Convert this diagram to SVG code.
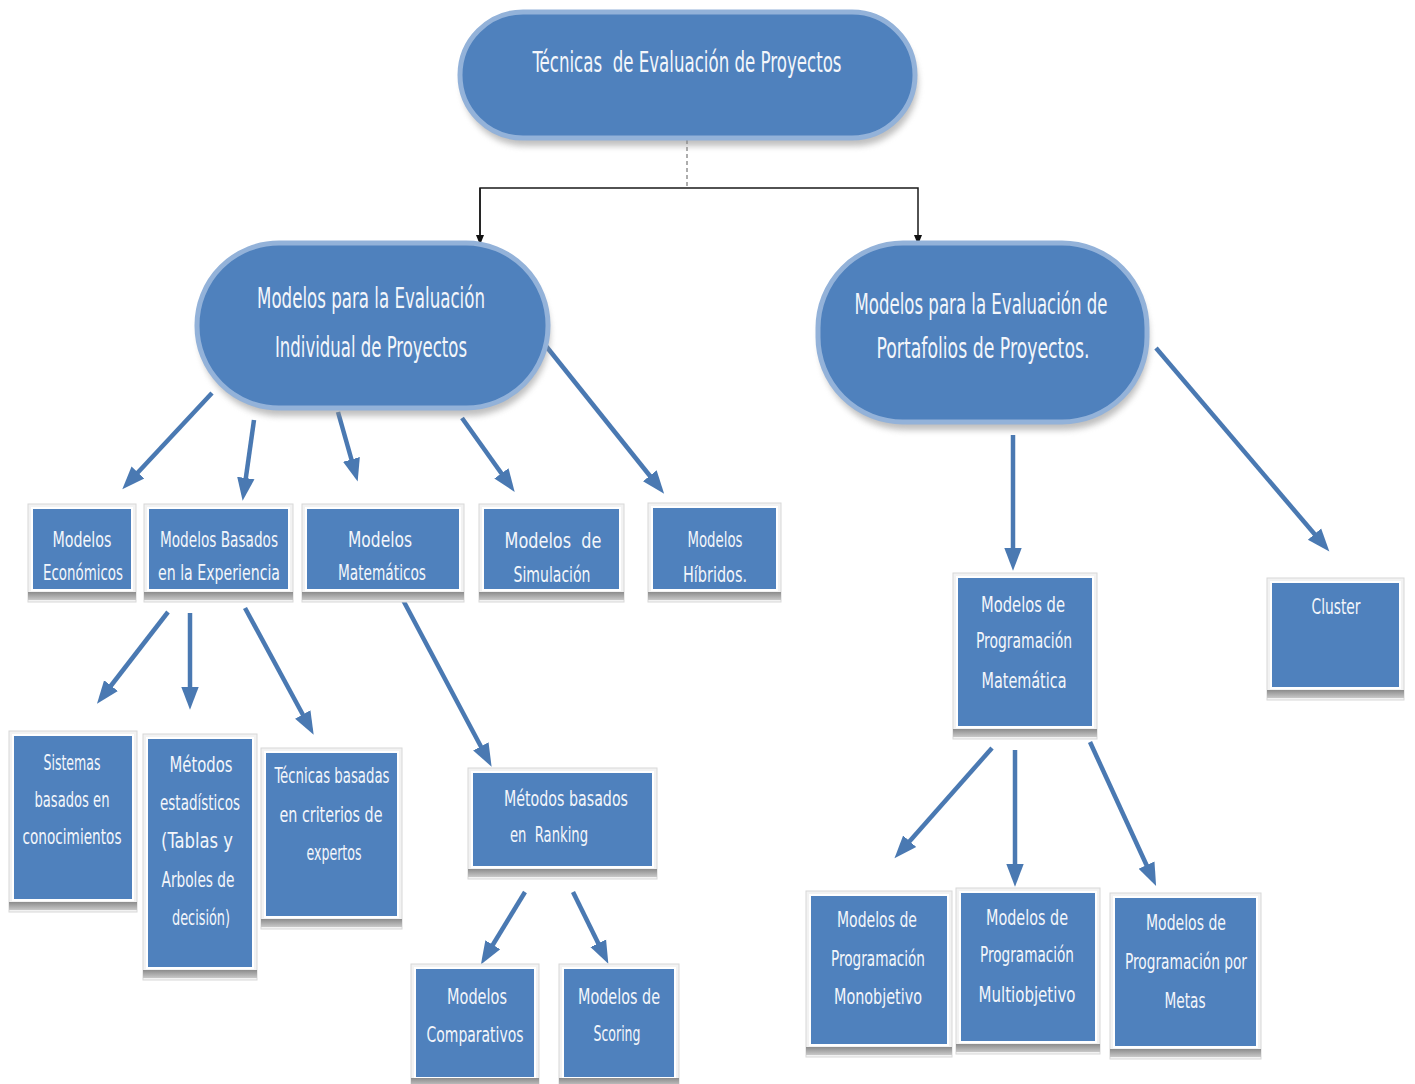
<svg xmlns="http://www.w3.org/2000/svg" width="1415" height="1084" viewBox="0 0 1415 1084">
  <style>
    .pill { fill: #4f81bd; stroke: #93b2d9; stroke-width: 5; }
    .pillShade { fill: #8a8a8a; opacity: 0.55; filter: url(#soft); }
    .frame { fill: #f2f2f2; stroke: #d8d8d8; stroke-width: 1; }
    .shade { fill: url(#shadeGrad); }
    .box { fill: #4f81bd; stroke: #ffffff; stroke-width: 2; }
    text { font-family: "Liberation Sans Narrow", "DejaVu Sans Condensed", "Liberation Sans", sans-serif; fill: #f3f6fb; text-anchor: middle; white-space: pre; }
    .big { font-size: 28px; }
    .small { font-size: 21px; }
    .arrow { stroke: #4a79b2; stroke-width: 4.5; fill: none; marker-end: url(#blueHead); }
    .link { stroke: #1a1a1a; stroke-width: 1.5; fill: none; }
    .stem { stroke: #777777; stroke-width: 1.2; stroke-dasharray: 4 3; fill: none; }
  </style>
  <defs>
    <filter id="soft" x="-10%" y="-10%" width="120%" height="130%">
      <feGaussianBlur stdDeviation="3"/>
    </filter>
    <linearGradient id="shadeGrad" x1="0" y1="0" x2="0" y2="1">
      <stop offset="0" stop-color="#8c8c8c"/>
      <stop offset="1" stop-color="#c8c8c8"/>
    </linearGradient>
    <marker id="blueHead" markerUnits="userSpaceOnUse" markerWidth="24" markerHeight="24" viewBox="0 -10 22 20" refX="12" refY="0" orient="auto">
      <path d="M0,-8 L21,0 L0,8 z" fill="#4a79b2"/>
    </marker>
    <marker id="blackHead" markerUnits="userSpaceOnUse" markerWidth="10" markerHeight="12" viewBox="0 -5 10 10" refX="9" refY="0" orient="auto">
      <path d="M0,-4 L10,0 L0,4 z" fill="#111111"/>
    </marker>
  </defs>

  <rect width="1415" height="1084" fill="#ffffff"/>

  <!-- connectors -->
  <g id="connectors">
    <line class="stem" x1="687" y1="140" x2="687" y2="188"/>
    <polyline class="link" points="480,244 480,188 918,188 918,244" marker-end="url(#blackHead)"/>
    <line class="link" x1="480" y1="188" x2="480" y2="244" marker-end="url(#blackHead)"/>
    <line class="arrow" x1="212" y1="393" x2="129" y2="482"/>
    <line class="arrow" x1="254" y1="420" x2="244" y2="491"/>
    <line class="arrow" x1="338" y1="412" x2="355" y2="472"/>
    <line class="arrow" x1="462" y1="418" x2="509" y2="484"/>
    <line class="arrow" x1="546" y1="346" x2="658" y2="486"/>
    <line class="arrow" x1="1013" y1="435" x2="1013" y2="561"/>
    <line class="arrow" x1="1156" y1="348" x2="1323" y2="544"/>
    <line class="arrow" x1="168" y1="612" x2="103" y2="696"/>
    <line class="arrow" x1="190" y1="613" x2="190" y2="700"/>
    <line class="arrow" x1="245" y1="608" x2="309" y2="726"/>
    <line class="arrow" x1="403" y1="600" x2="487" y2="758"/>
    <line class="arrow" x1="525" y1="892" x2="486" y2="956"/>
    <line class="arrow" x1="573" y1="892" x2="604" y2="955"/>
    <line class="arrow" x1="992" y1="748" x2="901" y2="851"/>
    <line class="arrow" x1="1015" y1="750" x2="1015" y2="877"/>
    <line class="arrow" x1="1090" y1="742" x2="1152" y2="877"/>
  </g>

  <!-- root -->
  <g id="n-root">
    <rect class="pillShade" x="462" y="20" width="456" height="126" rx="63"/>
    <rect class="pill" x="460" y="12" width="455" height="126" rx="63"/>
    <text class="big" x="687" y="72" textLength="309" lengthAdjust="spacingAndGlyphs">Técnicas  de Evaluación de Proyectos</text>
  </g>

  <g id="n-individual">
    <rect class="pillShade" x="199" y="251" width="351" height="165" rx="82"/>
    <rect class="pill" x="197" y="243" width="351" height="165" rx="82"/>
    <text class="big" x="371" y="308" textLength="228" lengthAdjust="spacingAndGlyphs">Modelos para la Evaluación</text>
    <text class="big" x="371" y="357" textLength="192" lengthAdjust="spacingAndGlyphs">Individual de Proyectos</text>
  </g>

  <g id="n-portafolios">
    <rect class="pillShade" x="820" y="251" width="329" height="179" rx="85"/>
    <rect class="pill" x="818" y="243" width="329" height="179" rx="85"/>
    <text class="big" x="981" y="314" textLength="253" lengthAdjust="spacingAndGlyphs">Modelos para la Evaluación de</text>
    <text class="big" x="983" y="358" textLength="213" lengthAdjust="spacingAndGlyphs">Portafolios de Proyectos.</text>
  </g>

  <!-- second level -->
  <g id="n-economicos">
    <rect class="frame" x="28" y="504" width="108" height="98"/>
    <rect class="shade" x="28" y="592" width="108" height="8"/>
    <rect class="box" x="32" y="508" width="100" height="82"/>
    <text class="small" x="82" y="547" textLength="59" lengthAdjust="spacingAndGlyphs">Modelos</text>
    <text class="small" x="83" y="580" textLength="80" lengthAdjust="spacingAndGlyphs">Económicos</text>
  </g>

  <g id="n-experiencia">
    <rect class="frame" x="144" y="504" width="149" height="98"/>
    <rect class="shade" x="144" y="592" width="149" height="8"/>
    <rect class="box" x="148" y="508" width="141" height="82"/>
    <text class="small" x="219" y="547" textLength="118" lengthAdjust="spacingAndGlyphs">Modelos Basados</text>
    <text class="small" x="219" y="580" textLength="122" lengthAdjust="spacingAndGlyphs">en la Experiencia</text>
  </g>

  <g id="n-matematicos">
    <rect class="frame" x="302" y="504" width="162" height="98"/>
    <rect class="shade" x="302" y="592" width="162" height="8"/>
    <rect class="box" x="306" y="508" width="154" height="82"/>
    <text class="small" x="380" y="547" textLength="64" lengthAdjust="spacingAndGlyphs">Modelos</text>
    <text class="small" x="382" y="580" textLength="88" lengthAdjust="spacingAndGlyphs">Matemáticos</text>
  </g>

  <g id="n-simulacion">
    <rect class="frame" x="479" y="504" width="145" height="98"/>
    <rect class="shade" x="479" y="592" width="145" height="8"/>
    <rect class="box" x="483" y="508" width="137" height="82"/>
    <text class="small" x="553" y="548" textLength="97" lengthAdjust="spacingAndGlyphs">Modelos  de</text>
    <text class="small" x="552" y="582" textLength="77" lengthAdjust="spacingAndGlyphs">Simulación</text>
  </g>

  <g id="n-hibridos">
    <rect class="frame" x="648" y="503" width="133" height="99"/>
    <rect class="shade" x="648" y="592" width="133" height="8"/>
    <rect class="box" x="652" y="507" width="125" height="83"/>
    <text class="small" x="715" y="547" textLength="55" lengthAdjust="spacingAndGlyphs">Modelos</text>
    <text class="small" x="715" y="582" textLength="64" lengthAdjust="spacingAndGlyphs">Híbridos.</text>
  </g>

  <!-- third level, left -->
  <g id="n-conocimientos">
    <rect class="frame" x="9" y="731" width="128" height="181"/>
    <rect class="shade" x="9" y="902" width="128" height="8"/>
    <rect class="box" x="13" y="735" width="120" height="165"/>
    <text class="small" x="72" y="770" textLength="57" lengthAdjust="spacingAndGlyphs">Sistemas</text>
    <text class="small" x="72" y="807" textLength="75" lengthAdjust="spacingAndGlyphs">basados en</text>
    <text class="small" x="72" y="844" textLength="99" lengthAdjust="spacingAndGlyphs">conocimientos</text>
  </g>

  <g id="n-estadisticos">
    <rect class="frame" x="143" y="734" width="114" height="246"/>
    <rect class="shade" x="143" y="970" width="114" height="8"/>
    <rect class="box" x="147" y="738" width="106" height="230"/>
    <text class="small" x="201" y="772" textLength="63" lengthAdjust="spacingAndGlyphs">Métodos</text>
    <text class="small" x="200" y="810" textLength="80" lengthAdjust="spacingAndGlyphs">estadísticos</text>
    <text class="small" x="197" y="848" textLength="72" lengthAdjust="spacingAndGlyphs">(Tablas y</text>
    <text class="small" x="198" y="887" textLength="73" lengthAdjust="spacingAndGlyphs">Arboles de</text>
    <text class="small" x="201" y="925" textLength="58" lengthAdjust="spacingAndGlyphs">decisión)</text>
  </g>

  <g id="n-expertos">
    <rect class="frame" x="261" y="748" width="141" height="181"/>
    <rect class="shade" x="261" y="919" width="141" height="8"/>
    <rect class="box" x="265" y="752" width="133" height="165"/>
    <text class="small" x="332" y="783" textLength="115" lengthAdjust="spacingAndGlyphs">Técnicas basadas</text>
    <text class="small" x="331" y="822" textLength="103" lengthAdjust="spacingAndGlyphs">en criterios de</text>
    <text class="small" x="334" y="860" textLength="55" lengthAdjust="spacingAndGlyphs">expertos</text>
  </g>

  <g id="n-ranking">
    <rect class="frame" x="468" y="768" width="189" height="111"/>
    <rect class="shade" x="468" y="869" width="189" height="8"/>
    <rect class="box" x="472" y="772" width="181" height="95"/>
    <text class="small" x="566" y="806" textLength="124" lengthAdjust="spacingAndGlyphs">Métodos basados</text>
    <text class="small" x="510" y="842" style="text-anchor:start" textLength="78" lengthAdjust="spacingAndGlyphs">en  Ranking</text>
  </g>

  <g id="n-comparativos">
    <rect class="frame" x="411" y="964" width="128" height="130"/>
    <rect class="box" x="415" y="968" width="120" height="110"/>
    <rect class="shade" x="411" y="1078" width="128" height="8"/>
    <text class="small" x="477" y="1004" textLength="60" lengthAdjust="spacingAndGlyphs">Modelos</text>
    <text class="small" x="475" y="1042" textLength="97" lengthAdjust="spacingAndGlyphs">Comparativos</text>
  </g>

  <g id="n-scoring">
    <rect class="frame" x="559" y="964" width="120" height="130"/>
    <rect class="box" x="563" y="968" width="112" height="110"/>
    <rect class="shade" x="559" y="1078" width="120" height="8"/>
    <text class="small" x="619" y="1004" textLength="82" lengthAdjust="spacingAndGlyphs">Modelos de</text>
    <text class="small" x="617" y="1041" textLength="47" lengthAdjust="spacingAndGlyphs">Scoring</text>
  </g>

  <!-- portfolio branch -->
  <g id="n-programacion">
    <rect class="frame" x="953" y="573" width="144" height="166"/>
    <rect class="shade" x="953" y="729" width="144" height="8"/>
    <rect class="box" x="957" y="577" width="136" height="150"/>
    <text class="small" x="1023" y="612" textLength="84" lengthAdjust="spacingAndGlyphs">Modelos de</text>
    <text class="small" x="1024" y="648" textLength="96" lengthAdjust="spacingAndGlyphs">Programación</text>
    <text class="small" x="1024" y="688" textLength="85" lengthAdjust="spacingAndGlyphs">Matemática</text>
  </g>

  <g id="n-cluster">
    <rect class="frame" x="1267" y="578" width="137" height="122"/>
    <rect class="shade" x="1267" y="690" width="137" height="8"/>
    <rect class="box" x="1271" y="582" width="129" height="106"/>
    <text class="small" x="1336" y="614" textLength="49" lengthAdjust="spacingAndGlyphs">Cluster</text>
  </g>

  <g id="n-monobjetivo">
    <rect class="frame" x="806" y="891" width="146" height="166"/>
    <rect class="shade" x="806" y="1047" width="146" height="8"/>
    <rect class="box" x="810" y="895" width="138" height="150"/>
    <text class="small" x="877" y="927" textLength="80" lengthAdjust="spacingAndGlyphs">Modelos de</text>
    <text class="small" x="878" y="966" textLength="94" lengthAdjust="spacingAndGlyphs">Programación</text>
    <text class="small" x="878" y="1004" textLength="88" lengthAdjust="spacingAndGlyphs">Monobjetivo</text>
  </g>

  <g id="n-multiobjetivo">
    <rect class="frame" x="956" y="888" width="144" height="166"/>
    <rect class="shade" x="956" y="1044" width="144" height="8"/>
    <rect class="box" x="960" y="892" width="136" height="150"/>
    <text class="small" x="1027" y="925" textLength="82" lengthAdjust="spacingAndGlyphs">Modelos de</text>
    <text class="small" x="1027" y="962" textLength="94" lengthAdjust="spacingAndGlyphs">Programación</text>
    <text class="small" x="1027" y="1002" textLength="97" lengthAdjust="spacingAndGlyphs">Multiobjetivo</text>
  </g>

  <g id="n-metas">
    <rect class="frame" x="1110" y="893" width="151" height="166"/>
    <rect class="shade" x="1110" y="1049" width="151" height="8"/>
    <rect class="box" x="1114" y="897" width="143" height="150"/>
    <text class="small" x="1186" y="930" textLength="80" lengthAdjust="spacingAndGlyphs">Modelos de</text>
    <text class="small" x="1186" y="969" textLength="122" lengthAdjust="spacingAndGlyphs">Programación por</text>
    <text class="small" x="1185" y="1008" textLength="41" lengthAdjust="spacingAndGlyphs">Metas</text>
  </g>
</svg>
